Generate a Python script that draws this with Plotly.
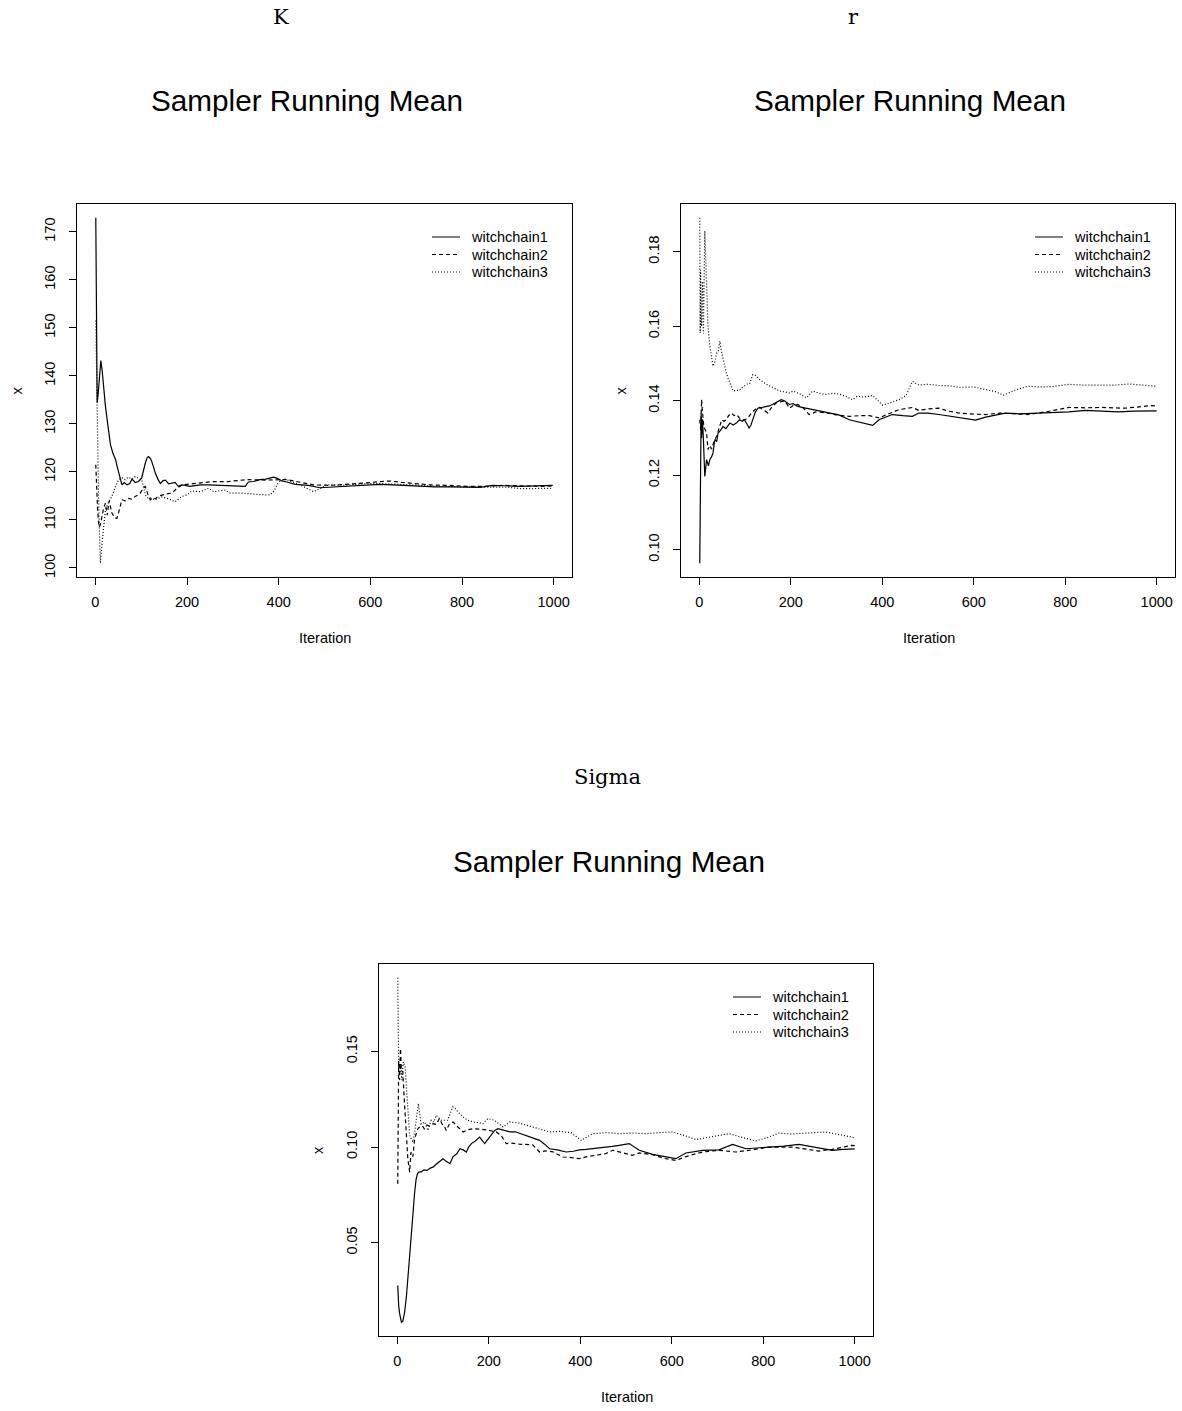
import plotly.graph_objects as go

# ---------------------------------------------------------------------------
# Running means of three MCMC chains for the parameters K, r and Sigma
# (values read at selected iterations)
# ---------------------------------------------------------------------------
chain_names = ["witchchain1", "witchchain2", "witchchain3"]

# ---- K --------------------------------------------------------------------
k1_iter = [1, 2, 3, 4, 6, 9, 12, 15, 19, 22, 27, 33, 38, 44, 48, 51, 55, 58, 63, 69,
           75, 80, 87, 94, 101, 105, 109, 113, 116, 120, 123, 127, 131, 137, 142, 148,
           153, 160, 167, 174, 181, 189, 196, 205, 214, 230, 247, 270, 290, 310, 327,
           334, 345, 359, 372, 389, 398, 407, 418, 436, 465, 490, 510, 534, 560, 592,
           620, 650, 694, 708, 740, 780, 810, 839, 867, 895, 926, 960, 998]
k1_mean = [172.9, 162.4, 150.0, 134.4, 136.0, 140.0, 143.2, 141.0, 136.0, 133.7, 130.0,
           125.7, 124.0, 122.6, 121.0, 119.7, 118.5, 117.3, 117.8, 117.3, 117.6, 118.5,
           117.8, 118.0, 118.7, 120.5, 121.8, 123.0, 123.2, 122.8, 122.2, 121.0, 119.7,
           118.4, 117.6, 118.2, 118.3, 117.5, 117.6, 117.8, 117.0, 117.3, 117.2, 117.0,
           117.1, 117.3, 117.3, 117.2, 117.1, 117.1, 117.0, 117.9, 118.0, 118.4, 118.5,
           118.9, 118.6, 118.1, 117.9, 117.4, 117.2, 116.7, 116.8, 117.0, 117.2, 117.3,
           117.4, 117.3, 117.1, 117.0, 116.9, 116.9, 116.8, 116.8, 117.2, 117.1, 117.0,
           117.1, 117.2]

k2_iter = [1, 2, 3, 5, 8, 11, 14, 18, 22, 26, 30, 36, 42, 47, 52, 58, 65, 73, 80, 87,
           93, 98, 104, 109, 114, 120, 126, 131, 138, 145, 155, 167, 178, 189, 200, 210,
           230, 258, 290, 330, 370, 418, 450, 476, 510, 548, 590, 621, 643, 670, 694,
           730, 770, 810, 850, 890, 930, 970, 998]
k2_mean = [121.5, 118.5, 116.0, 112.0, 108.5, 109.0, 110.5, 112.5, 113.5, 111.0, 114.0,
           111.5, 110.5, 110.3, 112.0, 114.2, 114.0, 114.5, 114.3, 114.9, 115.2, 115.6,
           116.5, 117.0, 115.5, 114.2, 114.6, 114.4, 115.0, 115.2, 115.4, 115.6, 116.6,
           117.3, 117.4, 117.5, 117.7, 118.0, 118.0, 118.4, 118.3, 118.4, 117.8, 117.3,
           117.2, 117.4, 117.7, 118.0, 118.1, 117.8, 117.6, 117.3, 117.2, 117.0, 117.0,
           117.2, 117.1, 117.0, 117.1]

k3_iter = [1, 2, 3, 4, 5, 7, 9, 11, 13, 15, 18, 22, 28, 36, 44, 51, 58, 65, 72, 80, 87,
           94, 101, 105, 109, 115, 120, 130, 145, 160, 174, 189, 200, 210, 229, 247, 258,
           283, 294, 320, 330, 355, 381, 390, 396, 403, 414, 425, 445, 461, 476, 490,
           505, 540, 580, 620, 660, 700, 750, 800, 850, 900, 930, 960, 998]
k3_mean = [151.5, 143.5, 138.0, 130.0, 124.0, 115.0, 107.0, 101.0, 103.5, 105.8, 109.3,
           112.1, 113.5, 114.9, 117.0, 118.4, 118.8, 118.4, 118.9, 118.5, 119.0, 118.7,
           118.4, 117.0, 115.2, 114.6, 114.6, 114.2, 114.8, 114.4, 113.8, 114.9, 115.2,
           116.0, 115.9, 116.6, 115.9, 116.2, 115.6, 115.6, 115.5, 115.3, 115.2, 116.0,
           117.3, 118.1, 118.5, 118.1, 117.4, 116.6, 115.9, 116.5, 117.3, 117.2, 117.5,
           117.6, 117.4, 117.1, 117.0, 116.9, 116.9, 116.8, 116.5, 116.5, 116.6]

# ---- r --------------------------------------------------------------------
r1_iter = [1, 2, 3, 4, 5, 7, 9, 12, 16, 20, 23, 27, 30, 34, 38, 41, 46, 52, 58, 67, 74,
           81, 88, 94, 99, 104, 109, 113, 117, 122, 128, 136, 143, 153, 160, 165, 172,
           179, 186, 197, 205, 215, 230, 248, 265, 285, 305, 328, 350, 372, 379, 393,
           410, 422, 445, 466, 480, 499, 524, 560, 585, 604, 626, 650, 669, 700, 735,
           771, 808, 844, 880, 916, 950, 989, 1000]
r1_mean = [0.0964, 0.1108, 0.1330, 0.1367, 0.1300, 0.1350, 0.1296, 0.1197, 0.1242,
           0.1225, 0.1242, 0.1250, 0.1260, 0.1296, 0.1290, 0.1313, 0.1320, 0.1331,
           0.1325, 0.1340, 0.1335, 0.1340, 0.1349, 0.1345, 0.1349, 0.1338, 0.1327,
           0.1335, 0.1349, 0.1368, 0.1380, 0.1382, 0.1385, 0.1386, 0.1390, 0.1394,
           0.1398, 0.1403, 0.1400, 0.1390, 0.1392, 0.1385, 0.1381, 0.1376, 0.1372,
           0.1367, 0.1362, 0.1349, 0.1342, 0.1336, 0.1334, 0.1349, 0.1356, 0.1363,
           0.1360, 0.1358, 0.1367, 0.1367, 0.1363, 0.1356, 0.1352, 0.1348, 0.1356,
           0.1362, 0.1367, 0.1365, 0.1366, 0.1367, 0.1370, 0.1374, 0.1371, 0.1370,
           0.1372, 0.1374, 0.1373]

r2_iter = [1, 2, 3, 5, 7, 9, 12, 16, 19, 23, 27, 32, 38, 44, 49, 54, 59, 64, 70, 76, 81,
           87, 92, 100, 107, 114, 120, 125, 132, 140, 150, 158, 168, 176, 186, 192, 197,
           206, 215, 228, 240, 255, 275, 300, 328, 350, 372, 393, 415, 436, 466, 480,
           499, 524, 545, 568, 600, 626, 658, 690, 718, 757, 790, 808, 845, 880, 931,
           960, 989, 1000]
r2_mean = [0.1349, 0.1330, 0.1320, 0.1403, 0.1370, 0.1340, 0.1325, 0.1313, 0.1269,
           0.1280, 0.1270, 0.1290, 0.1305, 0.1330, 0.1349, 0.1345, 0.1349, 0.1360,
           0.1367, 0.1360, 0.1363, 0.1355, 0.1349, 0.1349, 0.1355, 0.1367, 0.1375,
           0.1380, 0.1382, 0.1375, 0.1367, 0.1382, 0.1394, 0.1397, 0.1399, 0.1390,
           0.1380, 0.1388, 0.1390, 0.1380, 0.1363, 0.1370, 0.1368, 0.1362, 0.1358,
           0.1360, 0.1360, 0.1354, 0.1365, 0.1376, 0.1382, 0.1374, 0.1378, 0.1380,
           0.1372, 0.1367, 0.1364, 0.1363, 0.1367, 0.1365, 0.1363, 0.1370, 0.1378,
           0.1382, 0.1381, 0.1382, 0.1380, 0.1383, 0.1387, 0.1386]

r3_iter = [1, 2, 3, 4, 5, 7, 9, 12, 14, 16, 19, 23, 27, 30, 34, 38, 42, 45, 48, 52, 56,
           59, 63, 67, 74, 81, 88, 93, 99, 105, 110, 117, 121, 127, 132, 140, 147, 157,
           168, 176, 186, 197, 205, 220, 234, 248, 262, 277, 292, 306, 320, 335, 345,
           360, 379, 392, 401, 420, 437, 452, 466, 480, 499, 524, 546, 568, 600, 626,
           646, 665, 690, 718, 745, 771, 808, 840, 880, 910, 939, 965, 989, 1000]
r3_mean = [0.1891, 0.1582, 0.1750, 0.1620, 0.1600, 0.1720, 0.1580, 0.1856, 0.1780,
           0.1690, 0.1600, 0.1547, 0.1510, 0.1493, 0.1505, 0.1528, 0.1535, 0.1560,
           0.1535, 0.1511, 0.1490, 0.1475, 0.1460, 0.1448, 0.1426, 0.1428, 0.1428,
           0.1435, 0.1439, 0.1445, 0.1445, 0.1470, 0.1470, 0.1462, 0.1457, 0.1450,
           0.1444, 0.1438, 0.1430, 0.1426, 0.1424, 0.1421, 0.1426, 0.1418, 0.1408,
           0.1426, 0.1420, 0.1417, 0.1420, 0.1418, 0.1412, 0.1403, 0.1412, 0.1410,
           0.1414, 0.1400, 0.1388, 0.1396, 0.1403, 0.1414, 0.1452, 0.1442, 0.1444,
           0.1441, 0.1440, 0.1436, 0.1437, 0.1430, 0.1425, 0.1415, 0.1428, 0.1439,
           0.1437, 0.1438, 0.1444, 0.1442, 0.1443, 0.1442, 0.1445, 0.1442, 0.1439,
           0.1439]

# ---- Sigma ----------------------------------------------------------------
s1_iter = [1, 2, 3, 5, 7, 9, 12, 14, 16, 20, 23, 27, 30, 34, 38, 41, 44, 47, 52, 58,
           65, 72, 78, 85, 92, 100, 107, 115, 122, 130, 137, 144, 151, 156, 162, 170,
           180, 186, 191, 198, 205, 213, 220, 228, 238, 246, 258, 270, 289, 300, 311,
           322, 333, 350, 369, 385, 398, 413, 427, 441, 456, 470, 485, 507, 529, 545,
           558, 585, 609, 631, 650, 667, 703, 733, 762, 790, 812, 845, 878, 900, 921,
           951, 975, 994, 1000]
s1_mean = [0.0276, 0.0180, 0.0171, 0.0130, 0.0100, 0.0084, 0.0090, 0.0110, 0.0136,
           0.0220, 0.0311, 0.0430, 0.0555, 0.0660, 0.0764, 0.0830, 0.0860, 0.0869,
           0.0870, 0.0880, 0.0878, 0.0890, 0.0895, 0.0910, 0.0925, 0.0939, 0.0925,
           0.0913, 0.0950, 0.0965, 0.0991, 0.0985, 0.0974, 0.1000, 0.1018, 0.1030,
           0.1052, 0.1035, 0.1018, 0.1040, 0.1065, 0.1087, 0.1096, 0.1090, 0.1085,
           0.1079, 0.1080, 0.1070, 0.1052, 0.1045, 0.1035, 0.1015, 0.0991, 0.0985,
           0.0974, 0.0978, 0.0985, 0.0988, 0.0991, 0.0995, 0.0998, 0.1003, 0.1009,
           0.1018, 0.0983, 0.0970, 0.0962, 0.0950, 0.0939, 0.0969, 0.0975, 0.0983,
           0.0985, 0.1014, 0.0991, 0.0995, 0.0998, 0.1005, 0.1014, 0.1005, 0.0995,
           0.0983, 0.0988, 0.0991, 0.0990]

s2_iter = [1, 2, 3, 5, 7, 9, 12, 16, 19, 23, 27, 30, 34, 38, 45, 49, 55, 59, 65, 70, 78,
           85, 92, 98, 103, 107, 114, 122, 130, 137, 144, 154, 166, 180, 195, 216, 227,
           238, 250, 267, 296, 311, 325, 340, 362, 380, 398, 415, 435, 455, 471, 500,
           514, 529, 558, 585, 609, 631, 667, 703, 740, 775, 812, 863, 895, 921, 951,
           975, 994, 1000]
s2_mean = [0.0808, 0.1300, 0.1450, 0.1350, 0.1515, 0.1400, 0.1393, 0.1218, 0.1079,
           0.0939, 0.0869, 0.0974, 0.0950, 0.1044, 0.1096, 0.1105, 0.1110, 0.1095,
           0.1115, 0.1110, 0.1122, 0.1118, 0.1149, 0.1120, 0.1110, 0.1087, 0.1120,
           0.1131, 0.1110, 0.1095, 0.1079, 0.1090, 0.1096, 0.1093, 0.1090, 0.1079,
           0.1061, 0.1018, 0.1020, 0.1015, 0.1012, 0.0974, 0.0980, 0.0975, 0.0948,
           0.0945, 0.0939, 0.0950, 0.0957, 0.0965, 0.0983, 0.0965, 0.0957, 0.0969,
           0.0960, 0.0940, 0.0930, 0.0950, 0.0974, 0.0983, 0.0974, 0.0985, 0.1000,
           0.1000, 0.0990, 0.0979, 0.0988, 0.0998, 0.1009, 0.1007]

s3_iter = [1, 2, 3, 5, 8, 10, 13, 17, 20, 23, 27, 31, 34, 38, 41, 46, 52, 60, 67, 74,
           80, 85, 96, 110, 121, 126, 132, 139, 144, 154, 166, 177, 187, 198, 212, 231,
           246, 267, 296, 315, 333, 355, 380, 402, 427, 456, 485, 514, 544, 572, 602,
           628, 653, 690, 725, 755, 783, 810, 834, 860, 885, 910, 936, 965, 994, 1000]
s3_mean = [0.1885, 0.1600, 0.1420, 0.1380, 0.1420, 0.1350, 0.1445, 0.1420, 0.1300,
           0.1218, 0.1061, 0.1040, 0.1026, 0.1080, 0.1131, 0.1227, 0.1120, 0.1131,
           0.1087, 0.1140, 0.1130, 0.1166, 0.1140, 0.1140, 0.1210, 0.1205, 0.1185,
           0.1166, 0.1157, 0.1140, 0.1131, 0.1128, 0.1122, 0.1149, 0.1140, 0.1105,
           0.1131, 0.1125, 0.1105, 0.1095, 0.1079, 0.1082, 0.1075, 0.1035, 0.1070,
           0.1075, 0.1070, 0.1073, 0.1070, 0.1075, 0.1079, 0.1060, 0.1039, 0.1055,
           0.1070, 0.1050, 0.1032, 0.1050, 0.1073, 0.1068, 0.1070, 0.1075, 0.1079,
           0.1065, 0.1049, 0.1049]

# Tick values for each panel
x_ticks = [0, 200, 400, 600, 800, 1000]
k_ticks = [100, 110, 120, 130, 140, 150, 160, 170]
r_ticks = [0.10, 0.12, 0.14, 0.16, 0.18]
s_ticks = [0.05, 0.10, 0.15]

# ---------------------------------------------------------------------------
# Page geometry (pixels) and styling
# ---------------------------------------------------------------------------
W, H = 1182, 1411
SANS = "Liberation Sans, Arial, Helvetica, sans-serif"
SERIF = "DejaVu Serif, Liberation Serif, serif"
FS = 14.5
LW = 1.2
DASHES = ["solid", "4px,3px", "1px,2px"]


def fx(p):
    return p / W


def fy(p):
    return 1 - p / H


# plot-box edges (left, right, top, bottom) and centre of the parameter label
panels = [
    dict(name="K", box=(77, 572, 204, 577), label_x=281,
         series=[(k1_iter, k1_mean), (k2_iter, k2_mean), (k3_iter, k3_mean)],
         ticks=k_ticks, fmt=""),
    dict(name="r", box=(681, 1175, 204, 577), label_x=853,
         series=[(r1_iter, r1_mean), (r2_iter, r2_mean), (r3_iter, r3_mean)],
         ticks=r_ticks, fmt=".2f"),
    dict(name="Sigma", box=(379, 873, 964, 1336), label_x=607,
         series=[(s1_iter, s1_mean), (s2_iter, s2_mean), (s3_iter, s3_mean)],
         ticks=s_ticks, fmt=".2f"),
]

fig = go.Figure()
annotations = []
shapes = []


def text(s, x, y, size=FS, family=SANS, angle=0, xanchor="center"):
    return dict(text=s, x=fx(x), y=fy(y), xref="paper", yref="paper",
                showarrow=False, xanchor=xanchor, yanchor="middle",
                textangle=angle, font=dict(family=family, size=size, color="black"))


for n, p in enumerate(panels, start=1):
    xa = "x" if n == 1 else f"x{n}"
    ya = "y" if n == 1 else f"y{n}"
    left, right, top, bottom = p["box"]

    all_y = []
    for (it, vals), dash in zip(p["series"], DASHES):
        fig.add_trace(go.Scatter(
            x=it, y=vals, mode="lines", xaxis=xa, yaxis=ya,
            line=dict(color="black", width=LW, dash=dash),
            showlegend=False, hoverinfo="skip"))
        all_y += vals

    # R-style axis ranges: data extent plus 4% on both sides
    ymin, ymax = min(all_y), max(all_y)
    pad = 0.04 * (ymax - ymin)
    axis_common = dict(showline=True, mirror=True, linecolor="black", linewidth=1,
                       ticks="outside", ticklen=7, tickwidth=1, tickcolor="black",
                       showgrid=False, zeroline=False,
                       tickfont=dict(family=SANS, size=FS, color="black"))
    fig.update_layout(**{
        ("xaxis" if n == 1 else f"xaxis{n}"): dict(
            domain=[fx(left), fx(right)], range=[-40, 1040], tickvals=x_ticks,
            anchor=ya, ticklabelstandoff=5, **axis_common),
        ("yaxis" if n == 1 else f"yaxis{n}"): dict(
            domain=[fy(bottom), fy(top)], range=[ymin - pad, ymax + pad],
            tickvals=p["ticks"], tickformat=p["fmt"], tickangle=-90,
            anchor=xa, ticklabelstandoff=8, **axis_common),
    })

    cx = (left + right) / 2
    annotations.append(text(p["name"], p["label_x"], top - 187, size=21, family=SERIF))
    annotations.append(text("Sampler Running Mean", cx - 17.5, top - 103, size=29.7))
    annotations.append(text("Iteration", cx + 0.5, bottom + 61))
    annotations.append(text("x", left - 61, (top + bottom) / 2, angle=-90))

    # legend in the top-right corner of the plot box (no frame)
    for k, (name, dash) in enumerate(zip(chain_names, DASHES)):
        ly = top + 33 + k * 17.5
        shapes.append(dict(type="line", xref="paper", yref="paper",
                           x0=fx(right - 140), x1=fx(right - 112), y0=fy(ly), y1=fy(ly),
                           line=dict(color="black", width=1, dash=dash)))
        annotations.append(text(name, right - 103, ly, xanchor="left"))

fig.update_layout(
    width=W, height=H, margin=dict(l=0, r=0, t=0, b=0),
    paper_bgcolor="white", plot_bgcolor="white",
    showlegend=False, annotations=annotations, shapes=shapes,
)

fig.write_html("out.html")
